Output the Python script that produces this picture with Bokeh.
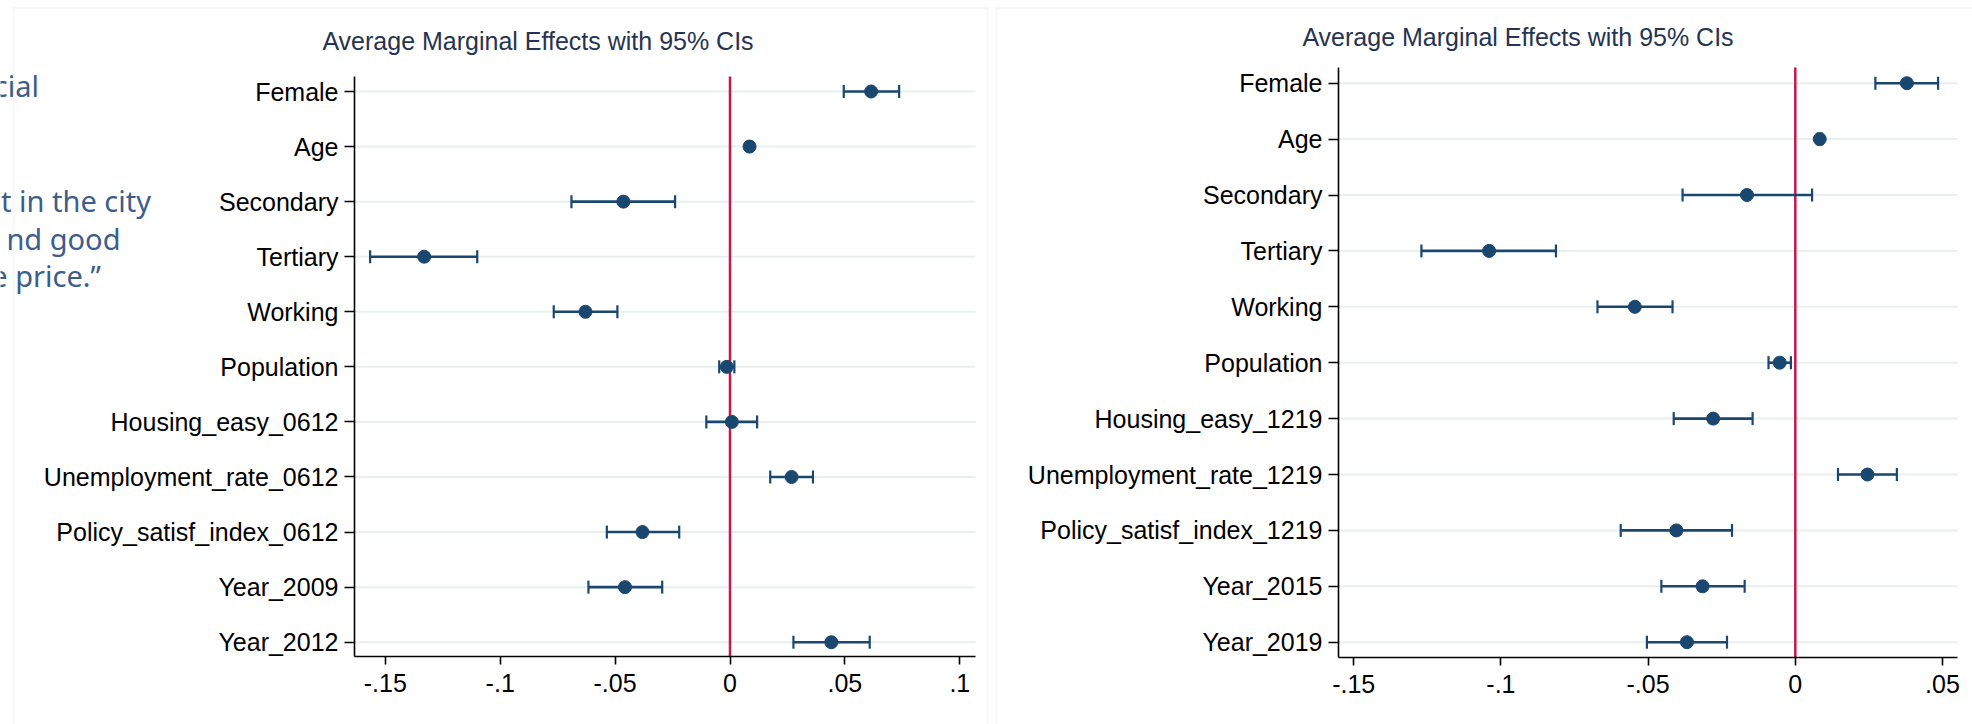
from bokeh.plotting import figure
from bokeh.layouts import row
from bokeh.models import (ColumnDataSource, Range1d, FixedTicker, Whisker,
                          TeeHead, Label, BoxAnnotation)
from bokeh.embed import file_html
from bokeh.resources import INLINE

# ---- 2006-2012 model ----
labels_0612 = ["Female", "Age", "Secondary", "Tertiary", "Working", "Population",
               "Housing_easy_0612", "Unemployment_rate_0612",
               "Policy_satisf_index_0612", "Year_2009", "Year_2012"]
ame_0612 = [0.0614, 0.0085, -0.0464, -0.1331, -0.0629, -0.0014,
            0.0008, 0.0268, -0.0381, -0.0457, 0.0441]
lo_0612 = [0.0495, 0.0078, -0.0690, -0.1566, -0.0767, -0.0047,
           -0.0103, 0.0175, -0.0536, -0.0616, 0.0276]
hi_0612 = [0.0736, 0.0092, -0.0239, -0.1100, -0.0490, 0.0019,
           0.0118, 0.0361, -0.0221, -0.0295, 0.0608]
xticks_0612 = [-0.15, -0.1, -0.05, 0.0, 0.05, 0.1]
xtick_labels_0612 = ["-.15", "-.1", "-.05", "0", ".05", ".1"]

# ---- 2012-2019 model ----
labels_1219 = ["Female", "Age", "Secondary", "Tertiary", "Working", "Population",
               "Housing_easy_1219", "Unemployment_rate_1219",
               "Policy_satisf_index_1219", "Year_2015", "Year_2019"]
ame_1219 = [0.0379, 0.0083, -0.0164, -0.1040, -0.0545, -0.0053,
            -0.0279, 0.0245, -0.0404, -0.0315, -0.0368]
lo_1219 = [0.0272, 0.0076, -0.0383, -0.1270, -0.0672, -0.0091,
           -0.0413, 0.0145, -0.0593, -0.0455, -0.0504]
hi_1219 = [0.0485, 0.0090, 0.0057, -0.0813, -0.0417, -0.0015,
           -0.0145, 0.0345, -0.0215, -0.0172, -0.0232]
xticks_1219 = [-0.15, -0.1, -0.05, 0.0, 0.05]
xtick_labels_1219 = ["-.15", "-.1", "-.05", "0", ".05"]

title_text = "Average Marginal Effects with 95% CIs"
side_text = ["cial", "t in the city", "nd good", "e price.\u201d"]

NAVY = "#1a476f"
RED = "#c8174a"
GRID = "#e9eff1"
FONT = "Liberation Sans"
H = 724


def panel(labels, ame, lo, hi, xticks, xtick_labels, width, box, x0_px, px_per_unit,
          row0_px, row_step, title_xy):
    """box = (left, right, top, bottom) of the plot region in canvas pixels.
    The frame fills the whole canvas; axes are pinned at the plot-region edges."""
    bl, br, bt, bb = box
    to_x = lambda px: (px - x0_px) / px_per_unit
    to_y = lambda py: (py - row0_px) / row_step
    xr = Range1d(to_x(0), to_x(width))
    yr = Range1d(to_y(H), to_y(0))          # first row on top
    x_lo, x_hi = to_x(bl), to_x(br)
    y_top, y_bot = to_y(bt), to_y(bb)

    p = figure(width=width, height=H, output_backend="svg", toolbar_location=None,
               x_range=xr, y_range=yr, min_border=0)
    p.outline_line_color = None
    p.background_fill_color = "white"
    p.border_fill_color = "white"
    p.grid.visible = False

    n = len(labels)
    ys = list(range(n))
    src = ColumnDataSource(dict(y=ys, ame=ame, lo=lo, hi=hi))

    # axes pinned to the plot-region edges
    p.xaxis.fixed_location = y_bot
    p.yaxis.fixed_location = x_lo
    p.xaxis.bounds = (x_lo, x_hi)
    p.yaxis.bounds = (y_top, y_bot)
    p.xaxis.ticker = FixedTicker(ticks=xticks)
    p.xaxis.major_label_overrides = {t: s for t, s in zip(xticks, xtick_labels)}
    p.yaxis.ticker = FixedTicker(ticks=ys)
    p.yaxis.major_label_overrides = {i: s for i, s in enumerate(labels)}
    for ax in (p.xaxis, p.yaxis):
        ax.axis_line_color = "black"
        ax.axis_line_width = 1.6
        ax.major_tick_line_color = "black"
        ax.major_tick_line_width = 1.6
        ax.minor_tick_line_color = None
        ax.major_tick_in = 0
        ax.major_label_text_font = FONT
        ax.major_label_text_font_size = "25px"
        ax.major_label_text_color = "black"
    p.xaxis.major_tick_out = 8
    p.yaxis.major_tick_out = 10
    p.xaxis.major_label_standoff = 9
    p.yaxis.major_label_standoff = 6

    # horizontal row lines across the plot region
    p.segment(x0=[x_lo] * n, y0=ys, x1=[x_hi] * n, y1=ys, line_color=GRID,
              line_width=2, level="underlay")

    # zero reference line
    p.segment(x0=[0], y0=[y_top], x1=[0], y1=[y_bot], line_color=RED,
              line_width=2.5, level="underlay")

    # confidence intervals
    head = dict(size=13, line_color=NAVY, line_width=2.2)
    p.add_layout(Whisker(source=src, base="y", lower="lo", upper="hi",
                         dimension="width", line_color=NAVY, line_width=2.6,
                         lower_head=TeeHead(**head), upper_head=TeeHead(**head)))
    # point estimates
    p.scatter("ame", "y", source=src, size=13, fill_color=NAVY, line_color=NAVY)

    tx, ty = title_xy
    p.add_layout(Label(x=tx, y=H - ty, x_units="screen", y_units="screen",
                       text=title_text, text_font=FONT, text_font_size="25px",
                       text_color="#263352", text_align="center",
                       text_baseline="middle"))
    return p


p1 = panel(labels_0612, ame_0612, lo_0612, hi_0612, xticks_0612, xtick_labels_0612,
           width=990, box=(354, 975, 76, 656), x0_px=729.5, px_per_unit=2298,
           row0_px=91, row_step=55.07, title_xy=(537.5, 40))

p2 = panel(labels_1219, ame_1219, lo_1219, hi_1219, xticks_1219, xtick_labels_1219,
           width=982, box=(348, 967, 67, 657), x0_px=804.8, px_per_unit=2944,
           row0_px=82.7, row_step=55.9, title_xy=(527.5, 36.7))

# light frames around each graph
frame_style = dict(left_units="screen", right_units="screen", top_units="screen",
                   bottom_units="screen", fill_alpha=0, line_color="#e3e6e8",
                   line_width=2)
p1.add_layout(BoxAnnotation(left=13, right=987, top=H - 7.5, bottom=-20, **frame_style))
p2.add_layout(BoxAnnotation(left=6, right=1100, top=H - 7.5, bottom=-20, **frame_style))

# slide text at the left edge (positions are text centres)
side_pos = [(38.5, 85), (150.5, 200), (120, 237.5), (100.5, 274.5)]
for txt, (sx, sy) in zip(side_text, side_pos):
    p1.add_layout(Label(x=sx, y=H - sy, x_units="screen", y_units="screen", text=txt,
                        text_font="Noto Sans", text_font_size="29px",
                        text_color="#3d5d8d", text_align="right",
                        text_baseline="middle"))

layout = row(p1, p2, spacing=0)
open("out.html", "w").write(file_html(layout, INLINE))
